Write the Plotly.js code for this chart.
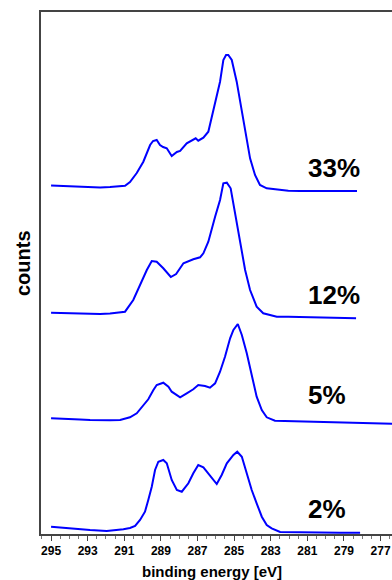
<!DOCTYPE html>
<html>
<head>
<meta charset="utf-8">
<script src="https://cdn.plot.ly/plotly-3.0.1.min.js"></script>
<style>
html,body{margin:0;padding:0;overflow:hidden;background:#fff;width:392px;height:580px;}
#chart{width:400px;height:580px;}
</style>
</head>
<body>
<div id="chart"></div>
<script>
// Binding energy (eV) and counts (arbitrary units, spectra stacked)
const seriesNames = ["33%", "12%", "5%", "2%"];

const x33 = [295.00,294.51,293.96,293.42,292.87,292.32,291.78,291.23,290.96,290.69,290.32,289.96,289.59,289.43,289.23,289.05,288.88,288.68,288.41,288.13,287.95,287.59,287.32,287.10,286.96,286.68,286.41,286.22,286.04,285.77,285.59,285.44,285.32,285.13,284.86,284.58,284.40,284.13,283.86,283.59,283.22,282.77,282.04,281.40,280.31,279.22,278.29];
const y33 = [348.5,348,347.5,347,347,346.5,347,347.5,348.3,352,361,372.3,389,393,394,389,387,385.7,378,382,383,390.7,393.3,395.7,393.3,396.3,402.3,417.3,429,452.3,474,479,479,474,452.3,422.3,402.3,375.7,359,349,345.7,344.7,343.3,343,343,342.7,343];

const x12 = [295.00,294.51,293.96,293.42,292.87,292.32,291.78,291.23,290.96,290.51,290.14,289.77,289.50,289.23,288.87,288.46,288.17,287.77,287.23,286.86,286.68,286.41,286.04,285.77,285.59,285.40,285.19,284.95,284.68,284.40,284.13,283.77,283.41,282.67,282.04,281.40,280.31,279.22,278.34];
const y12 = [221.3,221,220.5,220,220,220,220.5,221.5,222.3,234,249,264,273,272.3,265.7,257,260,270.7,274.7,276.7,280.7,292.3,317.3,334,350.7,351.3,345.7,320.7,290.7,264,244,227.3,220.7,217.3,217.3,217,216.5,216,215.7];

const x5 = [295.00,294.51,293.96,293.42,292.87,292.32,291.78,291.23,290.69,290.32,289.96,289.69,289.41,289.23,288.87,288.59,288.41,287.95,287.59,287.23,286.96,286.59,286.32,286.04,285.77,285.50,285.22,285.04,284.80,284.58,284.31,284.04,283.77,283.49,283.22,282.77,282.04,281.40,280.31,279.22,278.12,277.03,275.94];
const y5 = [115.7,115.5,115,114.5,114,113.7,113.7,114,116.7,120.7,129,134.7,144,149,151.3,147.3,142.3,136.7,140.7,144.7,149,148,146.3,150.7,162.3,177.3,195.7,204,210,199,180.7,157.3,137.3,124,116.7,113.3,113,112.5,112,111.5,111,110.5,110];

const x2 = [295.00,294.51,293.78,292.87,291.96,291.50,291.05,290.69,290.41,290.14,289.87,289.69,289.50,289.32,289.14,288.87,288.68,288.41,288.13,287.86,287.50,287.23,286.96,286.68,286.32,285.95,285.68,285.40,285.04,284.83,284.58,284.31,284.04,283.77,283.49,283.22,282.95,282.49,281.40,280.31,279.22,278.12];
const y2 = [7.3,6.5,5,4,3,3.5,4.7,6,8,14,22.3,34,47.3,64,72.3,74,70.7,54,44,42.3,50.7,60.7,69,66.7,59,50,59,70.7,79,82.3,77.3,60.7,44,30.7,17.3,9,5.7,2,1.5,1.5,1.3,1.3];

const labelY = [366, 239, 139, 25];
const xTickVals = [295,293,291,289,287,285,283,281,279,277];
const xTickText = ["295","293","291","289","287","285","283","281","279","277"];

const xs = [x33, x12, x5, x2];
const ys = [y33, y12, y5, y2];

const font = "Liberation Sans, Arial, sans-serif";

const traces = xs.map((x, i) => ({
  x: x, y: ys[i], type: "scatter", mode: "lines", name: seriesNames[i],
  line: {color: "#0000ff", width: 2}, hoverinfo: "skip"
}));

const L = 41, R = 0, T = 12, B = 46, W = 400, H = 580;
const pw = W - L - R, ph = H - T - B;

const annotations = seriesNames.map((n, i) => ({
  x: 281.07, y: labelY[i], xref: "x", yref: "y", text: n, showarrow: false,
  xanchor: "left", yanchor: "middle",
  font: {family: font, size: 26, color: "#000", weight: "bold"}
}));
annotations.push({
  xref: "paper", yref: "paper", x: (212 - L) / pw, y: (H - B - 571.5) / ph,
  xanchor: "center", yanchor: "middle",
  text: "binding energy [eV]", showarrow: false,
  font: {family: font, size: 15, color: "#000", weight: "bold"}
});
annotations.push({
  xref: "paper", yref: "paper", x: (23 - L) / pw, y: (H - B - 263) / ph,
  xanchor: "center", yanchor: "middle",
  text: "counts", showarrow: false, textangle: -90,
  font: {family: font, size: 20, color: "#000", weight: "bold"}
});

const layout = {
  width: W, height: H,
  margin: {l: L, r: R, t: T, b: B, pad: 0},
  paper_bgcolor: "#fff", plot_bgcolor: "#fff",
  showlegend: false,
  xaxis: {
    range: [295.55, 275.94], autorange: false,
    tickmode: "array", tickvals: xTickVals, ticktext: xTickText,
    ticks: "outside", ticklen: 5, tickwidth: 1, tickcolor: "#444",
    minor: {dtick: 0.5, ticks: "outside", ticklen: 3, tickcolor: "#777", tickwidth: 1, tick0: 295},
    showline: true, linecolor: "#444", linewidth: 2, mirror: true,
    showgrid: false, zeroline: false,
    tickfont: {family: font, size: 12, color: "#000", weight: "bold"}
  },
  yaxis: {
    range: [0, 522], autorange: false,
    showticklabels: false, ticks: "",
    showline: true, linecolor: "#444", linewidth: 2, mirror: true,
    showgrid: false, zeroline: false
  },
  annotations: annotations
};

Plotly.newPlot("chart", traces, layout, {staticPlot: true, displayModeBar: false});
</script>
</body>
</html>
